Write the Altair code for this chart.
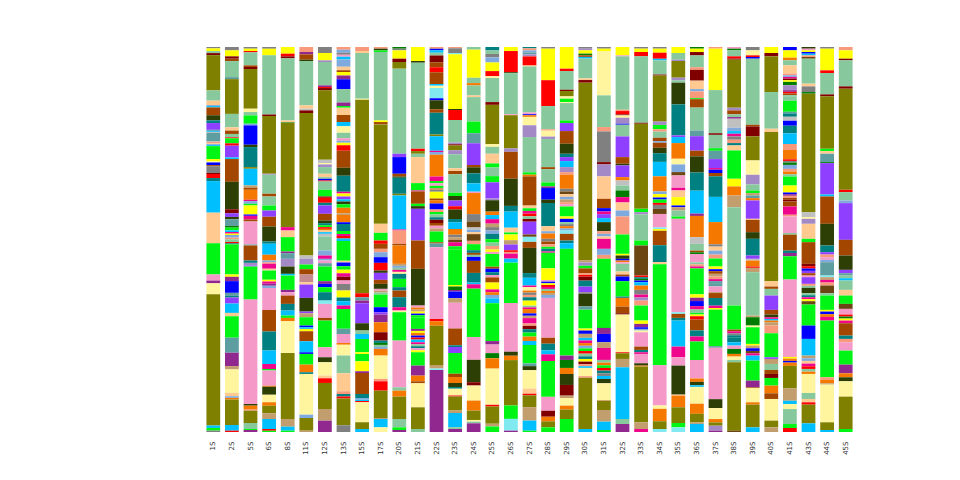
import altair as alt
import pandas as pd

samples = ["1S", "2S", "5S", "6S", "8S", "11S", "12S", "13S", "15S", "17S", "20S", "21S",
           "22S", "23S", "24S", "25S", "26S", "27S", "28S", "29S", "30S", "31S", "32S",
           "33S", "34S", "35S", "36S", "37S", "38S", "39S", "40S", "41S", "43S", "44S", "45S"]

palette = {
    "O": "#808000", "G": "#87C99D", "Y": "#FFFF00", "R": "#FF0000", "M": "#800000",
    "P": "#FFC990", "B": "#A34700", "D": "#2D3F05", "V": "#8F3FFF", "T": "#008080",
    "C": "#5F9EA0", "Gy": "#808080", "S": "#00BFFF", "L": "#00F514", "K": "#F59AC8",
    "Pu": "#91288F", "Kh": "#FFF59E", "Or": "#F57800", "Bl": "#0000FF", "DP": "#EF068C",
    "Sa": "#F7997A", "La": "#A38AC7", "Tn": "#C29D6D", "Cy": "#80EAF0", "DG": "#007D00",
    "Si": "#C0C0C0", "LB": "#80AADD", "Ro": "#C48A8F", "Br": "#6B4512",
}

# segments listed top -> bottom: (taxon colour key, relative abundance)
bar_1S = [("Gy",4),("Y",8),("G",6),("M",6),("O",104),("G",30),("P",13),("LB",3),("S",4),("B",23),("D",15),("T",8),("V",20),("C",3),("S",3),("Si",3),("C",24),("Si",3),("Sa",3),("P",3),("LB",3),("S",3),("L",38),("Y",7),("Kh",3),("Bl",8),("B",3),("Gy",20),("M",3),("R",12),("T",9),("S",93),("P",90),("L",92),("K",18),("Pu",8),("Kh",32),("O",387),("S",7),("L",8),("Gy",4)]
bar_2S = [("Gy",10),("Y",18),("M",7),("B",7),("G",48),("C",6),("O",104),("G",40),("P",10),("B",10),("G",10),("R",3),("L",15),("R",7),("V",35),("S",5),("B",68),("D",82),("M",12),("V",11),("D",7),("C",20),("DG",5),("L",8),("S",5),("DP",5),("Y",4),("LB",8),("Sa",5),("G",8),("R",4),("T",3),("L",90),("Y",7),("Pu",13),("Bl",35),("C",9),("T",5),("V",18),("S",28),("P",10),("L",64),("C",45),("Pu",40),("Tn",10),("Kh",70),("P",10),("LB",5),("Or",5),("O",76),("S",17),("R",4)]
bar_5S = [("Gy",5),("Y",7),("R",4),("G",39),("B",5),("M",6),("O",119),("Kh",10),("G",10),("L",25),("LB",5),("Bl",58),("D",7),("T",60),("O",5),("S",50),("Tn",7),("B",6),("Or",30),("DP",4),("LB",8),("L",5),("Y",27),("Bl",4),("DP",11),("B",6),("K",69),("C",3),("B",45),("T",7),("La",8),("V",3),("L",99),("K",313),("D",5),("Or",12),("Sa",3),("O",37),("G",18),("L",3),("Pu",6)]
bar_6S = [("Gy",5),("Y",20),("G",177),("M",5),("O",173),("La",3),("G",57),("B",8),("G",27),("L",15),("V",19),("B",29),("D",45),("T",7),("S",33),("Or",17),("LB",5),("Sa",5),("DP",15),("P",5),("L",28),("Y",5),("DP",7),("Pu",6),("LB",6),("K",66),("B",65),("T",57),("S",40),("DP",15),("L",5),("K",45),("Or",3),("D",24),("Kh",23),("Or",10),("O",23),("Tn",17),("S",30),("R",5),("L",4)]
bar_8S = [("Y",20),("R",8),("M",6),("G",186),("P",6),("DG",2),("O",312),("DP",10),("P",20),("L",43),("Pu",5),("C",17),("La",23),("D",22),("S",5),("L",43),("Pu",7),("K",10),("B",25),("T",20),("S",15),("L",7),("Or",10),("Kh",95),("O",198),("Tn",23),("S",12),("L",4)]
bar_11S = [("Sa",15),("Pu",7),("B",16),("D",4),("G",133),("P",10),("Si",5),("M",8),("O",427),("Si",10),("La",17),("L",14),("B",16),("Ro",23),("P",7),("V",40),("D",41),("V",5),("Tn",12),("L",25),("Bl",5),("S",5),("Y",7),("B",30),("S",33),("Bl",5),("L",32),("Or",23),("T",5),("Kh",122),("LB",10),("O",38),("Tn",4)]
bar_12S = [("Gy",18),("Y",22),("La",5),("G",70),("Pu",5),("R",3),("M",7),("O",208),("Si",10),("Kh",4),("La",8),("G",20),("P",10),("G",5),("Bl",5),("R",3),("G",25),("L",20),("M",4),("R",15),("T",8),("V",25),("B",20),("D",8),("T",6),("L",6),("R",5),("Or",5),("P",5),("S",5),("Si",8),("G",42),("LB",15),("DP",10),("LB",5),("K",8),("C",10),("L",44),("Pu",8),("Bl",10),("L",15),("T",25),("Cy",10),("K",42),("B",8),("L",80),("K",30),("D",15),("Kh",40),("P",8),("R",14),("O",78),("Tn",35),("Pu",34)]
bar_13S = [("Sa",8),("LB",8),("Gy",6),("K",5),("S",8),("LB",20),("P",10),("B",5),("Y",10),("Pu",10),("Bl",28),("G",37),("Pu",10),("L",5),("P",20),("B",20),("S",12),("Kh",18),("G",15),("K",7),("LB",6),("Y",7),("R",15),("B",48),("D",22),("T",45),("DP",5),("Y",8),("V",8),("S",6),("D",8),("L",10),("Or",15),("Tn",5),("Or",20),("Bl",5),("T",20),("L",8),("DP",6),("R",7),("S",7),("L",55),("P",5),("Bl",10),("L",10),("Y",10),("DP",10),("M",10),("K",10),("Gy",18),("Y",20),("T",10),("S",12),("DP",10),("L",55),("C",15),("K",25),("Or",5),("Kh",30),("G",50),("P",50),("Sa",8),("T",7),("R",5),("O",75),("Gy",19)]
bar_15S = [("Sa",12),("P",6),("G",137),("Kh",3),("O",580),("R",12),("C",10),("Pu",8),("V",60),("D",22),("G",10),("S",15),("L",40),("Y",5),("L",22),("Y",30),("Pu",5),("B",63),("T",12),("LB",5),("S",4),("R",4),("Kh",60),("O",20),("S",9)]
bar_17S = [("Sa",5),("D",5),("L",5),("G",205),("Y",5),("B",7),("O",298),("P",27),("L",23),("R",10),("B",15),("Sa",10),("LB",15),("Bl",17),("R",23),("D",7),("V",21),("B",12),("D",15),("K",5),("Tn",6),("G",6),("L",38),("Bl",15),("V",7),("Pu",23),("Or",30),("M",25),("T",7),("DG",6),("G",6),("LB",6),("Or",20),("Kh",70),("Sa",7),("R",28),("O",82),("Tn",3),("S",25),("Kh",14)]
bar_20S = [("DG",5),("Gy",5),("Y",25),("M",10),("O",20),("G",255),("V",10),("Bl",50),("B",8),("D",4),("T",48),("O",5),("S",102),("DP",3),("Sa",40),("B",5),("Or",55),("Tn",6),("LB",6),("G",6),("DP",6),("Kh",6),("T",15),("L",25),("T",10),("B",20),("T",30),("DP",10),("Kh",5),("L",85),("K",140),("G",10),("Or",18),("O",67),("G",25),("L",8),("Pu",6)]
bar_21S = [("Y",42),("D",5),("G",258),("R",7),("O",8),("G",10),("P",78),("L",22),("DP",3),("B",37),("L",7),("D",8),("V",95),("B",85),("D",110),("K",6),("Or",6),("Tn",6),("Y",6),("Bl",5),("L",6),("L",35),("Pu",6),("Y",6),("Or",8),("Bl",6),("R",6),("S",8),("DP",6),("G",6),("T",6),("K",6),("Y",6),("L",40),("Pu",30),("Or",17),("B",6),("Kh",72),("O",65),("G",9)]
bar_22S = [("Sa",5),("Bl",5),("S",7),("G",8),("M",20),("B",15),("R",15),("B",35),("S",5),("Kh",7),("Cy",30),("Bl",6),("D",27),("B",10),("T",65),("O",5),("S",43),("DP",4),("LB",8),("Or",65),("DP",13),("L",7),("K",7),("L",7),("Tn",6),("Gy",5),("Y",20),("B",5),("Or",10),("Bl",18),("Sa",7),("L",8),("G",8),("T",7),("M",10),("B",8),("K",8),("Tn",9),("L",32),("B",4),("C",11),("K",213),("R",7),("Or",13),("O",117),("Tn",10),("Cy",5),("Pu",184)]
bar_23S = [("Sa",4),("Gy",14),("Cy",4),("Y",163),("D",3),("R",30),("G",67),("La",5),("M",4),("O",14),("La",12),("G",42),("P",8),("B",10),("G",55),("L",10),("D",13),("V",17),("R",10),("D",28),("T",10),("S",20),("Or",17),("Gy",8),("Tn",8),("Br",7),("DP",12),("L",10),("L",105),("Y",5),("DG",10),("Pu",5),("Bl",20),("Tn",13),("K",77),("B",50),("T",5),("V",18),("L",62),("B",10),("Or",18),("D",12),("T",5),("Kh",20),("R",3),("O",42),("Tn",7),("S",43),("G",5),("Pu",9)]
bar_24S = [("G",8),("Y",84),("G",16),("Or",7),("G",30),("P",5),("G",73),("L",35),("C",30),("V",65),("B",7),("D",18),("T",30),("S",25),("K",4),("Or",63),("Gy",22),("Br",18),("Si",7),("LB",7),("P",6),("Br",20),("Sa",10),("L",18),("T",8),("B",6),("G",6),("Bl",12),("B",36),("T",29),("S",5),("DP",13),("L",145),("K",68),("D",67),("M",10),("Kh",45),("Or",30),("O",28),("Kh",5),("G",5),("Pu",26)]
bar_25S = [("T",10),("G",10),("Gy",10),("LB",15),("Y",25),("R",15),("Kh",5),("G",70),("M",8),("O",114),("Kh",8),("G",20),("P",28),("L",12),("G",25),("L",18),("V",47),("La",5),("D",33),("Or",10),("S",12),("DP",13),("Tn",10),("Gy",10),("LB",10),("T",15),("L",10),("G",10),("Sa",10),("Y",7),("K",6),("L",37),("B",6),("Bl",10),("T",8),("K",7),("B",15),("Y",20),("DP",8),("Or",8),("LB",10),("S",14),("L",110),("Pu",10),("K",25),("DG",15),("Or",30),("Kh",105),("R",5),("O",50),("Tn",8),("L",16)]
bar_26S = [("Y",12),("R",63),("D",3),("G",122),("K",3),("O",99),("La",10),("B",80),("D",81),("T",17),("S",48),("P",14),("L",6),("Y",17),("Tn",13),("V",17),("R",5),("Sa",5),("DP",15),("S",12),("L",120),("K",145),("D",12),("Or",13),("O",135),("L",40),("Cy",35),("Pu",4)]
bar_27S = [("T",4),("Sa",6),("LB",6),("C",6),("La",6),("R",27),("P",3),("G",137),("K",5),("Bl",3),("Or",5),("Kh",25),("La",35),("G",105),("L",7),("Or",5),("B",87),("P",8),("L",8),("DP",8),("R",8),("G",8),("M",8),("V",38),("Br",7),("Cy",15),("B",18),("D",75),("T",14),("S",23),("DP",5),("Kh",10),("Or",6),("Gy",7),("Sa",7),("T",10),("Y",15),("G",5),("DP",5),("Or",13),("Bl",7),("Tn",7),("DP",16),("Sa",7),("M",10),("T",10),("L",12),("Or",13),("S",12),("L",55),("C",8),("D",12),("Kh",55),("P",15),("R",5),("O",35),("Tn",40),("S",30),("L",4)]
bar_28S = [("Gy",5),("Y",95),("R",78),("G",70),("Sa",4),("Kh",18),("La",7),("G",85),("B",6),("G",40),("L",12),("Pu",5),("Bl",35),("D",10),("T",70),("P",15),("LB",7),("Or",16),("Gy",8),("B",8),("Sa",8),("L",6),("T",8),("DP",4),("L",47),("Y",35),("K",5),("Bl",5),("Y",5),("R",6),("DP",6),("G",6),("Or",6),("Tn",6),("LB",9),("K",120),("B",18),("T",20),("S",12),("DP",20),("L",108),("K",42),("M",18),("Or",14),("O",18),("L",14)]
bar_29S = [("Y",65),("R",7),("G",56),("M",4),("O",16),("Kh",7),("L",10),("Kh",3),("G",52),("L",8),("V",24),("B",38),("D",30),("T",10),("V",12),("S",18),("La",15),("Sa",8),("Or",42),("Gy",8),("Br",8),("P",8),("LB",8),("Tn",8),("Sa",6),("K",7),("L",30),("Y",7),("Bl",10),("G",6),("Gy",6),("Or",7),("LB",6),("Cy",10),("B",20),("T",8),("S",17),("L",320),("Pu",13),("DG",24),("Or",18),("D",33),("M",32),("Tn",8),("Kh",22),("Or",12),("O",28),("L",39)]
bar_30S = [("Gy",5),("La",5),("Y",10),("DG",5),("B",5),("S",5),("G",60),("P",5),("M",8),("O",537),("Tn",7),("La",10),("L",8),("B",15),("Sa",5),("R",5),("M",12),("T",18),("V",17),("Gy",5),("D",38),("C",10),("L",57),("Y",6),("Bl",10),("Tn",12),("S",8),("DP",8),("Or",8),("LB",8),("L",8),("R",8),("G",8),("T",8),("Y",8),("M",8),("Sa",6),("S",5),("Kh",25),("Sa",5),("O",155),("S",9)]
bar_31S = [("Gy",5),("Y",7),("Kh",133),("G",95),("Sa",13),("Gy",92),("M",7),("La",36),("P",67),("B",28),("Bl",10),("DP",8),("V",12),("S",12),("D",27),("Sa",8),("LB",8),("P",7),("DP",30),("LB",18),("Sa",12),("L",207),("Pu",18),("Bl",25),("Tn",17),("DP",36),("G",8),("Or",8),("L",8),("R",8),("T",8),("Gy",8),("S",9),("D",13),("Kh",50),("Sa",2),("O",28),("Tn",35),("S",25),("L",6)]
bar_32S = [("Y",25),("K",3),("G",160),("Sa",4),("R",10),("M",3),("Kh",7),("La",18),("Bl",3),("G",35),("V",62),("B",20),("D",5),("V",35),("Or",10),("Si",15),("G",15),("DG",20),("DP",16),("P",24),("LB",18),("Sa",54),("L",58),("Y",5),("D",10),("Bl",5),("Or",5),("K",5),("G",23),("P",9),("B",6),("Bl",14),("L",46),("T",4),("Or",26),("B",20),("M",4),("Kh",113),("R",3),("O",17),("Tn",25),("S",155),("G",15),("Pu",24)]
bar_33S = [("Gy",5),("Y",10),("R",13),("G",199),("M",3),("O",255),("L",10),("La",7),("G",78),("L",15),("Br",90),("R",5),("T",5),("DG",5),("Bl",5),("S",10),("Or",13),("Gy",14),("DP",9),("La",9),("Sa",15),("L",45),("Y",10),("Pu",10),("Bl",5),("LB",5),("Kh",5),("K",43),("B",10),("T",7),("DP",5),("K",28),("D",7),("Or",3),("O",167),("Tn",20),("DP",9)]
bar_34S = [("Gy",5),("Y",12),("R",18),("S",5),("G",42),("M",3),("O",137),("La",10),("L",13),("Sa",7),("G",18),("B",10),("LB",5),("B",15),("D",16),("T",26),("S",43),("Or",45),("LB",8),("Y",10),("Bl",6),("L",10),("R",6),("Gy",12),("Br",15),("K",40),("Cy",5),("Y",5),("B",43),("T",50),("P",7),("L",300),("K",120),("Kh",10),("Or",37),("O",23),("Cy",9)]
bar_35S = [("Y",18),("G",20),("La",4),("O",50),("La",8),("G",7),("D",65),("T",93),("V",5),("S",18),("Or",47),("Kh",17),("LB",23),("Br",10),("K",37),("DP",8),("P",20),("Y",25),("Bl",5),("Tn",10),("G",18),("L",7),("K",280),("Cy",5),("B",12),("T",8),("S",78),("DP",32),("K",25),("D",87),("P",3),("Or",35),("O",47),("L",13),("Cy",14)]
bar_36S = [("DG",5),("Y",10),("M",10),("G",35),("Sa",8),("M",32),("P",25),("LB",7),("Sa",20),("L",3),("B",25),("G",68),("C",17),("V",43),("B",17),("D",48),("T",54),("S",68),("Pu",7),("Or",63),("Si",20),("G",20),("B",5),("DG",5),("K",25),("G",6),("Sa",6),("DP",6),("L",77),("Y",10),("Pu",10),("Bl",15),("DP",10),("G",10),("L",5),("Y",5),("R",10),("B",32),("T",18),("DP",15),("L",55),("K",55),("Or",10),("D",10),("S",5),("Kh",50),("Or",30),("O",25),("Tn",5),("S",24)]
bar_37S = [("Sa",5),("Y",125),("G",130),("M",5),("G",40),("L",8),("C",25),("V",27),("DP",5),("Bl",10),("B",10),("T",62),("S",76),("Or",67),("Gy",7),("P",12),("LB",12),("Sa",12),("L",24),("Y",8),("Bl",6),("B",8),("Tn",8),("Sa",8),("DP",6),("C",6),("C",10),("K",17),("Tn",3),("B",15),("T",23),("DP",7),("Y",5),("L",110),("C",5),("K",155),("D",27),("Kh",33),("Or",10),("O",10),("La",15),("Pu",4)]
bar_38S = [("K",5),("DG",5),("G",18),("R",7),("M",3),("O",144),("La",8),("B",12),("G",8),("Pu",5),("Si",27),("LB",10),("S",8),("DP",8),("Gy",10),("Sa",10),("T",7),("P",15),("L",85),("Y",23),("Or",27),("Tn",35),("G",295),("L",72),("B",5),("DP",6),("Gy",6),("T",6),("T",15),("S",10),("K",10),("DG",15),("Or",8),("Kh",10),("G",7),("O",205),("Br",4)]
bar_39S = [("Gy",10),("Kh",15),("R",5),("Bl",5),("G",198),("B",5),("M",30),("O",72),("Kh",43),("La",29),("G",18),("L",8),("Tn",7),("C",8),("Or",7),("V",55),("P",3),("B",37),("D",20),("T",50),("V",10),("Si",5),("Or",18),("R",4),("Tn",13),("G",130),("Tn",5),("DG",25),("Kh",5),("L",50),("Y",5),("Tn",8),("Bl",8),("Br",7),("DP",7),("S",15),("L",60),("Pu",20),("B",2),("Kh",43),("Or",7),("O",68),("S",14)]
bar_40S = [("Y",18),("M",10),("O",107),("G",110),("P",10),("O",447),("P",16),("B",7),("G",20),("V",43),("B",14),("D",8),("DP",5),("S",5),("Or",5),("Tn",10),("Sa",23),("L",72),("V",5),("Tn",15),("G",18),("B",12),("M",12),("L",23),("Or",23),("B",17),("Kh",65),("O",20),("Tn",14)]
bar_41S = [("Bl",10),("Y",22),("Or",8),("G",15),("P",25),("Sa",5),("LB",5),("DP",5),("M",5),("Y",5),("DG",10),("La",15),("Pu",5),("R",5),("B",5),("G",5),("G",12),("L",33),("C",5),("T",10),("Si",12),("Bl",15),("T",23),("S",32),("Sa",18),("Or",28),("R",5),("Gy",5),("DG",7),("LB",12),("Sa",8),("Or",8),("G",7),("L",27),("Y",21),("Bl",5),("Pu",5),("Sa",6),("B",6),("M",5),("B",15),("DP",25),("Sa",5),("K",50),("G",5),("B",48),("T",7),("Pu",10),("L",70),("K",233),("Y",5),("Or",7),("Bl",5),("Or",10),("O",68),("Tn",37),("S",10),("Kh",15),("G",45),("L",12),("R",12)]
bar_43S = [("D",5),("K",5),("Y",5),("Bl",5),("S",5),("Sa",5),("Br",5),("G",75),("P",8),("Gy",17),("DG",5),("O",355),("Si",15),("Kh",5),("La",15),("P",45),("L",10),("B",65),("M",7),("R",7),("Bl",7),("V",7),("B",7),("K",5),("V",20),("Sa",6),("G",6),("D",16),("G",6),("T",6),("DP",6),("Y",6),("Br",10),("L",63),("Bl",40),("S",50),("Tn",8),("LB",8),("P",8),("DP",8),("R",8),("G",8),("Or",7),("Kh",57),("G",18),("P",10),("R",7),("O",56),("S",26)]
bar_44S = [("Gy",5),("Y",65),("R",8),("G",64),("M",6),("O",157),("L",7),("P",8),("C",25),("DG",3),("V",94),("S",6),("B",82),("D",65),("T",20),("V",7),("Sa",8),("K",8),("LB",7),("C",40),("Cy",5),("Tn",8),("DP",8),("Sa",9),("Br",23),("G",7),("L",43),("Y",5),("Bl",8),("Or",8),("DP",11),("L",170),("Sa",8),("Or",10),("Tn",4),("Kh",113),("O",23),("S",6)]
bar_45S = [("Sa",10),("Y",25),("M",5),("G",78),("M",7),("O",303),("R",7),("G",25),("LB",8),("V",110),("B",47),("D",43),("V",10),("C",7),("G",8),("S",7),("G",28),("P",17),("L",25),("Br",15),("K",17),("R",6),("DG",6),("Y",6),("DP",8),("B",37),("T",10),("Sa",10),("K",25),("L",42),("Pu",26),("Or",12),("D",12),("Kh",46),("O",97),("L",9)]

bars = [bar_1S, bar_2S, bar_5S, bar_6S, bar_8S, bar_11S, bar_12S, bar_13S, bar_15S, bar_17S,
        bar_20S, bar_21S, bar_22S, bar_23S, bar_24S, bar_25S, bar_26S, bar_27S, bar_28S,
        bar_29S, bar_30S, bar_31S, bar_32S, bar_33S, bar_34S, bar_35S, bar_36S, bar_37S,
        bar_38S, bar_39S, bar_40S, bar_41S, bar_43S, bar_44S, bar_45S]

rows = []
for s, segs in zip(samples, bars):
    for i, (key, v) in enumerate(segs):
        rows.append({"sample": s, "taxon": key, "value": v, "pos": i, "color": palette[key]})
df = pd.DataFrame(rows)

chart = alt.Chart(df).mark_bar(strokeWidth=0).encode(
    x=alt.X("sample:N", sort=samples,
            scale=alt.Scale(paddingInner=0.26, paddingOuter=0.13),
            axis=alt.Axis(title=None, labelAngle=-90, ticks=False, domain=False,
                          labelFontSize=7, labelFont="DejaVu Sans", labelColor="#333333",
                          labelPadding=9)),
    y=alt.Y("value:Q", stack="normalize", axis=None),
    color=alt.Color("color:N", scale=None),
    order=alt.Order("pos:Q", sort="descending"),
).properties(
    width=651, height=385,
    padding={"left": 196, "top": 39, "right": 10, "bottom": 40},
    autosize=alt.AutoSizeParams(type="none"),
).configure_view(stroke=None)

chart.save("out.html", embed_options={"renderer": "svg", "actions": False})
